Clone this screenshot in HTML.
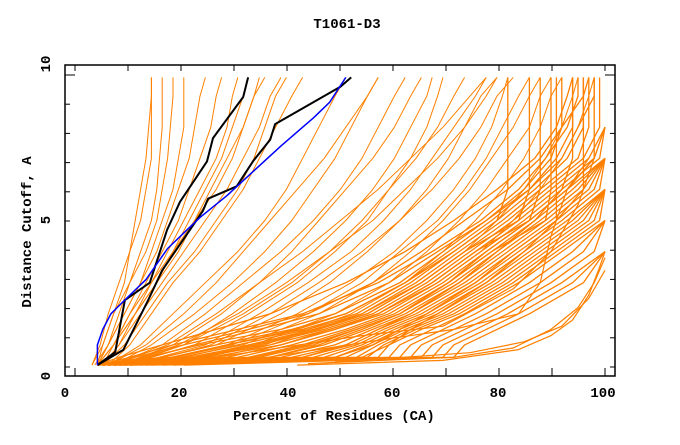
<!DOCTYPE html>
<html><head><meta charset="utf-8"><style>
html,body{margin:0;padding:0;background:#fff;}
svg text{font-family:"Liberation Mono",monospace;font-weight:bold;font-size:14px;fill:#000;}
</style></head><body>
<svg id="chart" width="680" height="440" viewBox="0 0 680 440" xmlns="http://www.w3.org/2000/svg">
<rect x="0" y="0" width="680" height="440" fill="#fff"/>
<text x="347" y="28" text-anchor="middle">T1061-D3</text>
<g id="marks"></g>
<rect x="65" y="65" width="550" height="311" fill="none" stroke="#000" stroke-width="1.5"/>
<g id="ticks"></g>
<text x="334" y="420" text-anchor="middle">Percent of Residues (CA)</text>
<text transform="translate(31,232) rotate(-90)" text-anchor="middle">Distance Cutoff, A</text>
</svg>
<script>
const yLevels=[0.35,1,2,3,4,5,6,7,8,9,9.6];
const lowLevels=[0.35,0.6,1,1.5,2,3,4,5,6,7,8,9,9.6];
const steepLines=[
[5,7,9,11,12,13,14,15,15.5,16,16],[5,6.5,8,10,12,14,15,16,16,16,16],[6,8,10,12,14,16,17,17.5,18,18,18],
[6,7,9,12,15,17,18,19,19.5,20,20],[5.5,8,11,14,16,18,20,21,22,22,22],[6,8,11,14,17,19,21,23,24,25,26],
[6,9,12,15,18,21,23,25,27,28,29],[7,10,13,16,19,22,25,28,30,31,32],[6,9,13,17,21,24,27,30,33,35,36],
[7,10,14,18,22,26,30,33,36,38,40],[7,11,15,19,24,28,32,35,37,39,41],[8,12,16,20,25,29,33,36,39,42,44],
[6,9,12,16,20,24,28,31,33,35,37],[7,9,13,17,20,23,26,29,31,33,34]];
const midLines=[
[8,14,20,26,32,37,41,44,47,50,52],[8,15,22,28,33,38,43,48,52,56,58],[9,16,24,31,37,42,46,50,53,56,58],
[9,18,26,33,40,46,51,55,58,61,63],[10,20,29,36,42,47,52,57,61,64,66],[10,22,31,39,46,52,57,61,64,67,68],
[11,24,34,43,50,56,60,64,67,69,70],[12,26,36,45,53,59,64,68,72,76,78],[12,28,40,49,56,62,67,71,74,77,80],
[13,30,43,53,61,67,72,76,79,81,82],[14,33,47,57,64,70,75,79,83,86,88],[15,35,50,60,67,73,78,82,86,88,90],
[16,37,53,63,70,76,81,85,88,90,92],[17,38,55,66,74,80,85,89,92,94,95],[18,40,58,69,77,83,88,92,95,97,98],
[11,22,33,42,49,55,60,65,69,72,74],[13,27,38,47,55,62,68,73,77,80,83],[14,31,45,55,62,69,74,78,81,84,86],
[9,19,28,36,44,51,58,64,70,75,78],[10,21,32,41,49,57,63,69,74,78,80]];
const lowLines=[
[6,15,25,40,50,62,70,78,85,90,92,92,92],[6,18,28,42,52,63,71,79,86,91,94,94,94],[7,20,30,44,54,64,72,80,87,93,96,96,96],
[7,22,32,45,55,65,73,81,88,95,97,97,97],[8,24,34,46,56,66,74,82,89,96,99,99,99],[8,26,36,48,57,67,75,83,90,97,100],
[6,28,38,49,58,68,76,84,91,98,100],[7,30,40,50,59,69,77,85,92,99,100],[8,32,42,52,60,70,78,86,93,100],
[9,34,44,53,61,71,79,87,94,100],[9,36,46,54,62,72,80,88,95,100],[10,38,48,56,63,73,81,89,96,100],
[10,40,50,57,64,74,82,90,97,100],[11,42,52,58,65,75,83,91,98,100],[12,44,53,59,66,76,84,92,99,100],
[6,46,54,60,67,77,85,93,100],[7,48,55,61,68,78,86,94,100],[8,50,56,62,69,79,87,95,100],
[9,52,57,63,70,80,88,96,100],[10,54,58,64,71,81,89,97,100],[11,56,59,65,72,82,90,98,100],
[12,58,60,66,73,83,91,99,100],[13,60,62,68,74,84,92,100],[14,62,64,70,76,86,94,100],
[15,64,66,72,78,88,96,100],[16,66,68,74,80,90,98,100],[18,68,70,76,82,92,100],
[20,70,72,78,84,94,100],[22,72,74,80,86,96,100],
[6,20,30,43,52,63,72,80,82,82,82,82,82],[7,25,35,47,56,66,74,84,86,86,86,86,86],
[8,30,40,50,58,68,76,86,88,88,88,88,88],[9,35,45,54,62,71,79,89,90,90,90,90,90],
[6,12,20,32,44,58,68,77,84,89,93,95,95],[7,16,24,36,47,60,69,78,86,92,95,98,98],
[6,10,18,28,38,52,63,72,80,87,91,93,94],[7,13,22,34,45,57,66,74,82,88,92,96,97],
[8,38,47,55,62,71,78,86,93,98,98,98,98],[9,44,52,58,64,73,80,87,92,94,94,94,94],
[10,50,57,62,67,76,83,91,96,96,96,96,96],[12,55,60,64,69,78,85,91,91,91,91,91,91]];
const outlierX=[[43,70,84,90,94,97,99,100],[45,72,83,90,95,98,100],[50,75,85,92,97,100],[20,55,70,83,90,95,98,100],[30,60,72,84,88,90,93,97]];
const outlierY=[[0.35,0.5,0.85,1.3,1.8,2.6,3.5,4],[0.4,0.6,0.9,1.5,2.2,3.0,3.8],[0.45,0.75,1.1,1.6,2.5,3.4],[0.4,1.3,1.6,2.8,4,5.5,7,8],[0.4,1.2,1.5,2.0,3.0,4.5,6,7]];
const blueX=[6,6,7,8.5,12,15,17,19,22,25,30,35,40,46,49,52];
const blueY=[0.35,1,1.5,2,2.6,3.1,3.6,4.1,4.6,5.1,5.8,6.6,7.4,8.3,8.8,9.6];
const black1X=[6,9.3,11.1,15.7,18.9,21.3,26.3,27.4,33,33.9];
const black1Y=[0.35,0.77,2.44,3.0,4.7,5.6,6.9,7.65,8.97,9.6];
const black2X=[6,10.8,15.4,18,25.5,26.5,31.8,34.8,38,38.9,51,53];
const black2Y=[0.35,0.84,2.44,3.4,5.3,5.7,6.1,6.9,7.6,8.1,9.3,9.6];
const xTickVals=[0,10,20,30,40,50,60,70,80,90,100];
const xLabels=["0","20","40","60","80","100"];
const xLabelPos=[65,179,288,392,498,603];
const yLabels=["0","5","10"];
const yLabelPos=[376,220,64];

function sx(v){return 65+v*5.4;}
function sy(v){return 376-v*31.1;}
const NS="http://www.w3.org/2000/svg";
const marks=document.getElementById('marks');
function poly(xs,ys,color,w,name){
  const p=document.createElementNS(NS,'polyline');
  let pts=[];
  for(let i=0;i<xs.length;i++){pts.push(sx(xs[i]).toFixed(1)+','+sy(ys[i]).toFixed(1));}
  p.setAttribute('points',pts.join(' '));
  p.setAttribute('fill','none');p.setAttribute('stroke',color);p.setAttribute('stroke-width',w);
  p.setAttribute('stroke-linejoin','round');
  
  
  marks.appendChild(p);
}
[steepLines,midLines].forEach(fam=>fam.forEach(xs=>poly(xs,yLevels.slice(0,xs.length),'#ff8000',1,'model-curve')));
lowLines.forEach(xs=>poly(xs,lowLevels.slice(0,xs.length),'#ff8000',1.3,'model-curve'));
outlierX.forEach((xs,i)=>poly(xs,outlierY[i],'#ff8000',1.2,'model-curve'));
poly(black1X,black1Y,'#000',2,'reference-curve-1');
poly(black2X,black2Y,'#000',2,'reference-curve-2');
poly(blueX,blueY,'#0000ff',1.5,'highlight-curve');

const tg=document.getElementById('ticks');
function line(x1,y1,x2,y2,name){
  const l=document.createElementNS(NS,'line');
  l.setAttribute('x1',x1);l.setAttribute('y1',y1);l.setAttribute('x2',x2);l.setAttribute('y2',y2);
  l.setAttribute('stroke','#000');l.setAttribute('stroke-width',1);
  
  
  tg.appendChild(l);
}
xTickVals.forEach(v=>{const x=75+v*5.3;line(x,376,x,368,'x-tick');line(x,65,x,71,'x-tick-top');});
for(let k=0;k<=10;k++){const y=75+k*29.2;const len=k===0?10:5;line(65,y,65+len,y,'y-tick');line(615,y,615-len,y,'y-tick-right');}
function txt(s,x,y,rot,name){
  const t=document.createElementNS(NS,'text');
  t.textContent=s;t.setAttribute('text-anchor','middle');
  if(rot){t.setAttribute('transform','translate('+x+','+y+') rotate(-90)');}
  else{t.setAttribute('x',x);t.setAttribute('y',y);}
  
  
  tg.appendChild(t);
}
xLabels.forEach((s,i)=>txt(s,xLabelPos[i],397,false,'x-tick-label'));
yLabels.forEach((s,i)=>txt(s,50,yLabelPos[i],true,'y-tick-label'));
</script>
</body></html>
